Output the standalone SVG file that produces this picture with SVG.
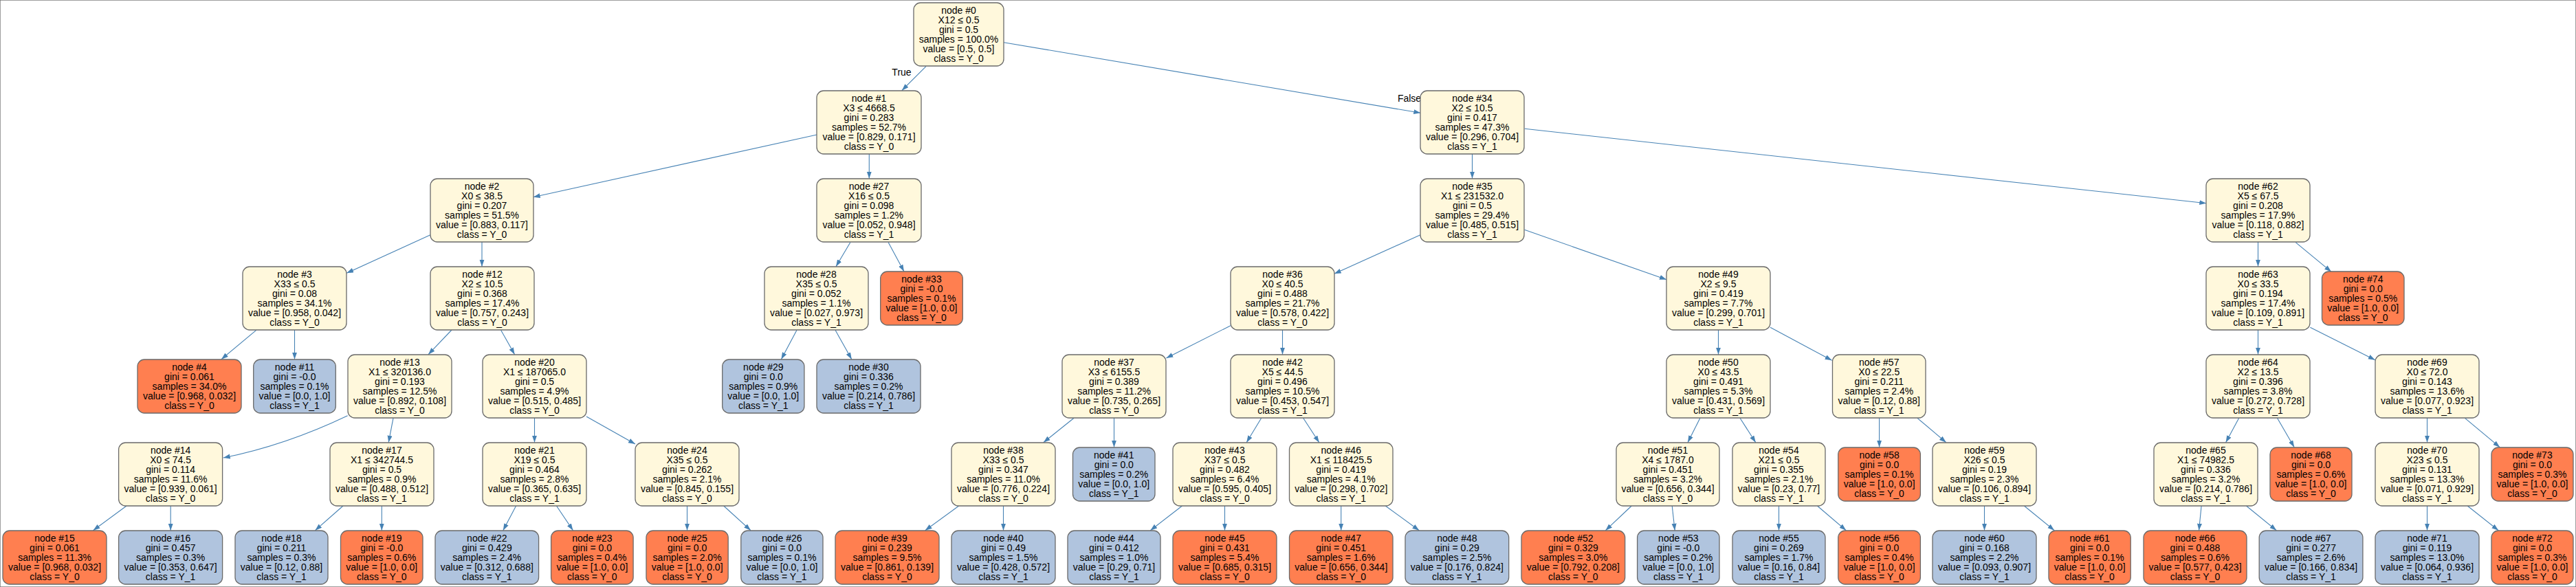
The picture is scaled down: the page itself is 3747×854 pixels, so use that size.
<svg xmlns="http://www.w3.org/2000/svg" width="3747" height="854" viewBox="0 0 3747 854">
<style>
rect{stroke:#6a6a6a;stroke-width:1.3}
.c{fill:#fff8dc}.o{fill:#ff7f50}.b{fill:#b0c4de}
text{font-family:"Liberation Sans",Arial,Helvetica,sans-serif;font-size:14px;fill:#000;text-anchor:middle}
.e path{fill:none;stroke:#4682b4;stroke-width:1.1;marker-end:url(#ah)}
</style>
<defs>
<marker id="ah" markerUnits="userSpaceOnUse" markerWidth="11" markerHeight="8" refX="10" refY="3.5" orient="auto"><path d="M0,0 L10,3.5 L0,7 z" fill="#4682b4"/></marker>
</defs>
<rect x="0" y="0" width="3747" height="854" fill="#fff" stroke="none"/>
<g id="edges" class="e">
<path d="M1346.9,96.7 L1311.8,131.7"/>
<path d="M1460,61.7 L2066.3,164.3"/>
<path d="M1188.2,196 L775.7,286.7"/>
<path d="M1264.3,224 L1264.3,259.7"/>
<path d="M2141.5,224 L2141.5,259.7"/>
<path d="M2217.8,187.3 L3209.3,295.7"/>
<path d="M626,341.7 L504.2,397.3"/>
<path d="M701,352 L701,387.7"/>
<path d="M1236.8,352.7 L1216,387.7"/>
<path d="M1292.2,352.7 L1315,395"/>
<path d="M2066,341.7 L1940.8,398.3"/>
<path d="M2217.5,334.3 L2424,406.7"/>
<path d="M3284.5,352 L3284.5,387.7"/>
<path d="M3339.2,352.7 L3391,395.3"/>
<path d="M372.7,480.3 L322,522.7"/>
<path d="M428.5,480 L428.5,522.7"/>
<path d="M657,480 L623,515.7"/>
<path d="M728.6,480.3 L748.6,515.7"/>
<path d="M1159,480.3 L1136.4,522.7"/>
<path d="M1215,480.3 L1238.8,522.7"/>
<path d="M1790,473.7 L1696.4,521"/>
<path d="M1865.5,480 L1865.5,515.7"/>
<path d="M2499.5,480 L2499.5,515.7"/>
<path d="M2575,476.3 L2664.6,524.3"/>
<path d="M3284.5,480 L3284.5,515.7"/>
<path d="M3360.3,476.3 L3454.8,523.7"/>
<path d="M505.6,604.7 Q415,648 324.8,666"/>
<path d="M572,608.3 L565.2,643.7"/>
<path d="M777.5,608 L777.5,643.7"/>
<path d="M853,606 L924,646"/>
<path d="M1562,608.3 L1517.8,643.7"/>
<path d="M1620.5,608 L1620.5,650.7"/>
<path d="M1834.7,608.3 L1813.2,643.7"/>
<path d="M1895.7,608.3 L1918.8,643.7"/>
<path d="M2472.9,608.3 L2455,643.7"/>
<path d="M2531,608.3 L2553.8,643.7"/>
<path d="M2733.6,608 L2733.6,650.7"/>
<path d="M2789,608.3 L2830.8,643.7"/>
<path d="M3256.7,608.3 L3237.6,643.7"/>
<path d="M3312.5,608.3 L3337.2,650.7"/>
<path d="M3530.5,608 L3530.5,643.7"/>
<path d="M3585.5,608.3 L3636.2,650.7"/>
<path d="M184,736 L135.5,771.7"/>
<path d="M248.2,736 L248.2,771.7"/>
<path d="M499,736 L458.4,771.7"/>
<path d="M555.3,736 L555.3,771.7"/>
<path d="M750.6,736 L731.8,771.7"/>
<path d="M809.5,736 L833.5,771.7"/>
<path d="M999.5,736 L999.5,771.7"/>
<path d="M1052.7,736 L1092,771.7"/>
<path d="M1394.7,736 L1345.7,771.7"/>
<path d="M1459.5,736 L1459.5,771.7"/>
<path d="M1719.5,736 L1673.3,771.7"/>
<path d="M1781.5,736 L1781.5,771.7"/>
<path d="M1950.7,736 L1950.7,771.7"/>
<path d="M2015.3,736 L2064.3,771.7"/>
<path d="M2373.2,736 L2335.4,771.7"/>
<path d="M2432.2,736 L2436.2,771.7"/>
<path d="M2587.5,736 L2587.5,771.7"/>
<path d="M2643.5,736 L2685.3,771.7"/>
<path d="M2886.5,736 L2886.5,771.7"/>
<path d="M2944.4,736 L2988.2,771.7"/>
<path d="M3202.1,736 L3198.5,771.7"/>
<path d="M3267.5,736 L3311.3,771.7"/>
<path d="M3530.5,736 L3530.5,771.7"/>
<path d="M3589.2,736 L3634.2,771.7"/>
<text x="1311.5" y="110">True</text>
<text x="2050" y="148">False</text>
</g>
<g id="node0"><rect class="c" x="1329" y="4" width="131" height="92" rx="10"/><text x="1394.5" y="20"><tspan x="1394.5">node #0</tspan><tspan x="1394.5" dy="14">X12 ≤ 0.5</tspan><tspan x="1394.5" dy="14">gini = 0.5</tspan><tspan x="1394.5" dy="14">samples = 100.0%</tspan><tspan x="1394.5" dy="14">value = [0.5, 0.5]</tspan><tspan x="1394.5" dy="14">class = Y_0</tspan></text></g>
<g id="node1"><rect class="c" x="1188" y="132" width="152" height="92" rx="10"/><text x="1264" y="148"><tspan x="1264">node #1</tspan><tspan x="1264" dy="14">X3 ≤ 4668.5</tspan><tspan x="1264" dy="14">gini = 0.283</tspan><tspan x="1264" dy="14">samples = 52.7%</tspan><tspan x="1264" dy="14">value = [0.829, 0.171]</tspan><tspan x="1264" dy="14">class = Y_0</tspan></text></g>
<g id="node34"><rect class="c" x="2066" y="132" width="151" height="92" rx="10"/><text x="2141.5" y="148"><tspan x="2141.5">node #34</tspan><tspan x="2141.5" dy="14">X2 ≤ 10.5</tspan><tspan x="2141.5" dy="14">gini = 0.417</tspan><tspan x="2141.5" dy="14">samples = 47.3%</tspan><tspan x="2141.5" dy="14">value = [0.296, 0.704]</tspan><tspan x="2141.5" dy="14">class = Y_1</tspan></text></g>
<g id="node2"><rect class="c" x="626" y="260" width="150" height="92" rx="10"/><text x="701" y="276"><tspan x="701">node #2</tspan><tspan x="701" dy="14">X0 ≤ 38.5</tspan><tspan x="701" dy="14">gini = 0.207</tspan><tspan x="701" dy="14">samples = 51.5%</tspan><tspan x="701" dy="14">value = [0.883, 0.117]</tspan><tspan x="701" dy="14">class = Y_0</tspan></text></g>
<g id="node27"><rect class="c" x="1188" y="260" width="152" height="92" rx="10"/><text x="1264" y="276"><tspan x="1264">node #27</tspan><tspan x="1264" dy="14">X16 ≤ 0.5</tspan><tspan x="1264" dy="14">gini = 0.098</tspan><tspan x="1264" dy="14">samples = 1.2%</tspan><tspan x="1264" dy="14">value = [0.052, 0.948]</tspan><tspan x="1264" dy="14">class = Y_1</tspan></text></g>
<g id="node35"><rect class="c" x="2066" y="260" width="151" height="92" rx="10"/><text x="2141.5" y="276"><tspan x="2141.5">node #35</tspan><tspan x="2141.5" dy="14">X1 ≤ 231532.0</tspan><tspan x="2141.5" dy="14">gini = 0.5</tspan><tspan x="2141.5" dy="14">samples = 29.4%</tspan><tspan x="2141.5" dy="14">value = [0.485, 0.515]</tspan><tspan x="2141.5" dy="14">class = Y_1</tspan></text></g>
<g id="node62"><rect class="c" x="3209" y="260" width="151" height="92" rx="10"/><text x="3284.5" y="276"><tspan x="3284.5">node #62</tspan><tspan x="3284.5" dy="14">X5 ≤ 67.5</tspan><tspan x="3284.5" dy="14">gini = 0.208</tspan><tspan x="3284.5" dy="14">samples = 17.9%</tspan><tspan x="3284.5" dy="14">value = [0.118, 0.882]</tspan><tspan x="3284.5" dy="14">class = Y_1</tspan></text></g>
<g id="node3"><rect class="c" x="353" y="388" width="151" height="92" rx="10"/><text x="428.5" y="404"><tspan x="428.5">node #3</tspan><tspan x="428.5" dy="14">X33 ≤ 0.5</tspan><tspan x="428.5" dy="14">gini = 0.08</tspan><tspan x="428.5" dy="14">samples = 34.1%</tspan><tspan x="428.5" dy="14">value = [0.958, 0.042]</tspan><tspan x="428.5" dy="14">class = Y_0</tspan></text></g>
<g id="node12"><rect class="c" x="626" y="388" width="151" height="92" rx="10"/><text x="701.5" y="404"><tspan x="701.5">node #12</tspan><tspan x="701.5" dy="14">X2 ≤ 10.5</tspan><tspan x="701.5" dy="14">gini = 0.368</tspan><tspan x="701.5" dy="14">samples = 17.4%</tspan><tspan x="701.5" dy="14">value = [0.757, 0.243]</tspan><tspan x="701.5" dy="14">class = Y_0</tspan></text></g>
<g id="node28"><rect class="c" x="1112" y="388" width="151" height="92" rx="10"/><text x="1187.5" y="404"><tspan x="1187.5">node #28</tspan><tspan x="1187.5" dy="14">X35 ≤ 0.5</tspan><tspan x="1187.5" dy="14">gini = 0.052</tspan><tspan x="1187.5" dy="14">samples = 1.1%</tspan><tspan x="1187.5" dy="14">value = [0.027, 0.973]</tspan><tspan x="1187.5" dy="14">class = Y_1</tspan></text></g>
<g id="node33"><rect class="o" x="1280.7" y="395" width="119.6" height="78" rx="10"/><text x="1340.5" y="411"><tspan x="1340.5">node #33</tspan><tspan x="1340.5" dy="14">gini = -0.0</tspan><tspan x="1340.5" dy="14">samples = 0.1%</tspan><tspan x="1340.5" dy="14">value = [1.0, 0.0]</tspan><tspan x="1340.5" dy="14">class = Y_0</tspan></text></g>
<g id="node36"><rect class="c" x="1790" y="388" width="151" height="92" rx="10"/><text x="1865.5" y="404"><tspan x="1865.5">node #36</tspan><tspan x="1865.5" dy="14">X0 ≤ 40.5</tspan><tspan x="1865.5" dy="14">gini = 0.488</tspan><tspan x="1865.5" dy="14">samples = 21.7%</tspan><tspan x="1865.5" dy="14">value = [0.578, 0.422]</tspan><tspan x="1865.5" dy="14">class = Y_0</tspan></text></g>
<g id="node49"><rect class="c" x="2424" y="388" width="151" height="92" rx="10"/><text x="2499.5" y="404"><tspan x="2499.5">node #49</tspan><tspan x="2499.5" dy="14">X2 ≤ 9.5</tspan><tspan x="2499.5" dy="14">gini = 0.419</tspan><tspan x="2499.5" dy="14">samples = 7.7%</tspan><tspan x="2499.5" dy="14">value = [0.299, 0.701]</tspan><tspan x="2499.5" dy="14">class = Y_1</tspan></text></g>
<g id="node63"><rect class="c" x="3209" y="388" width="151" height="92" rx="10"/><text x="3284.5" y="404"><tspan x="3284.5">node #63</tspan><tspan x="3284.5" dy="14">X0 ≤ 33.5</tspan><tspan x="3284.5" dy="14">gini = 0.194</tspan><tspan x="3284.5" dy="14">samples = 17.4%</tspan><tspan x="3284.5" dy="14">value = [0.109, 0.891]</tspan><tspan x="3284.5" dy="14">class = Y_1</tspan></text></g>
<g id="node74"><rect class="o" x="3377.5" y="395" width="119.5" height="78" rx="10"/><text x="3437.25" y="411"><tspan x="3437.25">node #74</tspan><tspan x="3437.25" dy="14">gini = 0.0</tspan><tspan x="3437.25" dy="14">samples = 0.5%</tspan><tspan x="3437.25" dy="14">value = [1.0, 0.0]</tspan><tspan x="3437.25" dy="14">class = Y_0</tspan></text></g>
<g id="node4"><rect class="o" x="200" y="523" width="151" height="78" rx="10"/><text x="275.5" y="539"><tspan x="275.5">node #4</tspan><tspan x="275.5" dy="14">gini = 0.061</tspan><tspan x="275.5" dy="14">samples = 34.0%</tspan><tspan x="275.5" dy="14">value = [0.968, 0.032]</tspan><tspan x="275.5" dy="14">class = Y_0</tspan></text></g>
<g id="node11"><rect class="b" x="368.7" y="523" width="119.6" height="78" rx="10"/><text x="428.5" y="539"><tspan x="428.5">node #11</tspan><tspan x="428.5" dy="14">gini = -0.0</tspan><tspan x="428.5" dy="14">samples = 0.1%</tspan><tspan x="428.5" dy="14">value = [0.0, 1.0]</tspan><tspan x="428.5" dy="14">class = Y_1</tspan></text></g>
<g id="node13"><rect class="c" x="506" y="516" width="151" height="92" rx="10"/><text x="581.5" y="532"><tspan x="581.5">node #13</tspan><tspan x="581.5" dy="14">X1 ≤ 320136.0</tspan><tspan x="581.5" dy="14">gini = 0.193</tspan><tspan x="581.5" dy="14">samples = 12.5%</tspan><tspan x="581.5" dy="14">value = [0.892, 0.108]</tspan><tspan x="581.5" dy="14">class = Y_0</tspan></text></g>
<g id="node20"><rect class="c" x="702" y="516" width="151" height="92" rx="10"/><text x="777.5" y="532"><tspan x="777.5">node #20</tspan><tspan x="777.5" dy="14">X1 ≤ 187065.0</tspan><tspan x="777.5" dy="14">gini = 0.5</tspan><tspan x="777.5" dy="14">samples = 4.9%</tspan><tspan x="777.5" dy="14">value = [0.515, 0.485]</tspan><tspan x="777.5" dy="14">class = Y_0</tspan></text></g>
<g id="node29"><rect class="b" x="1050.7" y="523" width="119.2" height="78" rx="10"/><text x="1110.3" y="539"><tspan x="1110.3">node #29</tspan><tspan x="1110.3" dy="14">gini = 0.0</tspan><tspan x="1110.3" dy="14">samples = 0.9%</tspan><tspan x="1110.3" dy="14">value = [0.0, 1.0]</tspan><tspan x="1110.3" dy="14">class = Y_1</tspan></text></g>
<g id="node30"><rect class="b" x="1188" y="523" width="151" height="78" rx="10"/><text x="1263.5" y="539"><tspan x="1263.5">node #30</tspan><tspan x="1263.5" dy="14">gini = 0.336</tspan><tspan x="1263.5" dy="14">samples = 0.2%</tspan><tspan x="1263.5" dy="14">value = [0.214, 0.786]</tspan><tspan x="1263.5" dy="14">class = Y_1</tspan></text></g>
<g id="node37"><rect class="c" x="1545" y="516" width="151" height="92" rx="10"/><text x="1620.5" y="532"><tspan x="1620.5">node #37</tspan><tspan x="1620.5" dy="14">X3 ≤ 6155.5</tspan><tspan x="1620.5" dy="14">gini = 0.389</tspan><tspan x="1620.5" dy="14">samples = 11.2%</tspan><tspan x="1620.5" dy="14">value = [0.735, 0.265]</tspan><tspan x="1620.5" dy="14">class = Y_0</tspan></text></g>
<g id="node42"><rect class="c" x="1790" y="516" width="151" height="92" rx="10"/><text x="1865.5" y="532"><tspan x="1865.5">node #42</tspan><tspan x="1865.5" dy="14">X5 ≤ 44.5</tspan><tspan x="1865.5" dy="14">gini = 0.496</tspan><tspan x="1865.5" dy="14">samples = 10.5%</tspan><tspan x="1865.5" dy="14">value = [0.453, 0.547]</tspan><tspan x="1865.5" dy="14">class = Y_1</tspan></text></g>
<g id="node50"><rect class="c" x="2424" y="516" width="151" height="92" rx="10"/><text x="2499.5" y="532"><tspan x="2499.5">node #50</tspan><tspan x="2499.5" dy="14">X0 ≤ 43.5</tspan><tspan x="2499.5" dy="14">gini = 0.491</tspan><tspan x="2499.5" dy="14">samples = 5.3%</tspan><tspan x="2499.5" dy="14">value = [0.431, 0.569]</tspan><tspan x="2499.5" dy="14">class = Y_1</tspan></text></g>
<g id="node57"><rect class="c" x="2665.5" y="516" width="135.5" height="92" rx="10"/><text x="2733.25" y="532"><tspan x="2733.25">node #57</tspan><tspan x="2733.25" dy="14">X0 ≤ 22.5</tspan><tspan x="2733.25" dy="14">gini = 0.211</tspan><tspan x="2733.25" dy="14">samples = 2.4%</tspan><tspan x="2733.25" dy="14">value = [0.12, 0.88]</tspan><tspan x="2733.25" dy="14">class = Y_1</tspan></text></g>
<g id="node64"><rect class="c" x="3209" y="516" width="151" height="92" rx="10"/><text x="3284.5" y="532"><tspan x="3284.5">node #64</tspan><tspan x="3284.5" dy="14">X2 ≤ 13.5</tspan><tspan x="3284.5" dy="14">gini = 0.396</tspan><tspan x="3284.5" dy="14">samples = 3.8%</tspan><tspan x="3284.5" dy="14">value = [0.272, 0.728]</tspan><tspan x="3284.5" dy="14">class = Y_1</tspan></text></g>
<g id="node69"><rect class="c" x="3455" y="516" width="151" height="92" rx="10"/><text x="3530.5" y="532"><tspan x="3530.5">node #69</tspan><tspan x="3530.5" dy="14">X0 ≤ 72.0</tspan><tspan x="3530.5" dy="14">gini = 0.143</tspan><tspan x="3530.5" dy="14">samples = 13.6%</tspan><tspan x="3530.5" dy="14">value = [0.077, 0.923]</tspan><tspan x="3530.5" dy="14">class = Y_1</tspan></text></g>
<g id="node14"><rect class="c" x="172.6" y="644" width="151" height="92" rx="10"/><text x="248.1" y="660"><tspan x="248.1">node #14</tspan><tspan x="248.1" dy="14">X0 ≤ 74.5</tspan><tspan x="248.1" dy="14">gini = 0.114</tspan><tspan x="248.1" dy="14">samples = 11.6%</tspan><tspan x="248.1" dy="14">value = [0.939, 0.061]</tspan><tspan x="248.1" dy="14">class = Y_0</tspan></text></g>
<g id="node17"><rect class="c" x="480" y="644" width="151" height="92" rx="10"/><text x="555.5" y="660"><tspan x="555.5">node #17</tspan><tspan x="555.5" dy="14">X1 ≤ 342744.5</tspan><tspan x="555.5" dy="14">gini = 0.5</tspan><tspan x="555.5" dy="14">samples = 0.9%</tspan><tspan x="555.5" dy="14">value = [0.488, 0.512]</tspan><tspan x="555.5" dy="14">class = Y_1</tspan></text></g>
<g id="node21"><rect class="c" x="702" y="644" width="151" height="92" rx="10"/><text x="777.5" y="660"><tspan x="777.5">node #21</tspan><tspan x="777.5" dy="14">X19 ≤ 0.5</tspan><tspan x="777.5" dy="14">gini = 0.464</tspan><tspan x="777.5" dy="14">samples = 2.8%</tspan><tspan x="777.5" dy="14">value = [0.365, 0.635]</tspan><tspan x="777.5" dy="14">class = Y_1</tspan></text></g>
<g id="node24"><rect class="c" x="924" y="644" width="151" height="92" rx="10"/><text x="999.5" y="660"><tspan x="999.5">node #24</tspan><tspan x="999.5" dy="14">X35 ≤ 0.5</tspan><tspan x="999.5" dy="14">gini = 0.262</tspan><tspan x="999.5" dy="14">samples = 2.1%</tspan><tspan x="999.5" dy="14">value = [0.845, 0.155]</tspan><tspan x="999.5" dy="14">class = Y_0</tspan></text></g>
<g id="node38"><rect class="c" x="1384" y="644" width="151" height="92" rx="10"/><text x="1459.5" y="660"><tspan x="1459.5">node #38</tspan><tspan x="1459.5" dy="14">X33 ≤ 0.5</tspan><tspan x="1459.5" dy="14">gini = 0.347</tspan><tspan x="1459.5" dy="14">samples = 11.0%</tspan><tspan x="1459.5" dy="14">value = [0.776, 0.224]</tspan><tspan x="1459.5" dy="14">class = Y_0</tspan></text></g>
<g id="node41"><rect class="b" x="1560.5" y="651" width="119.5" height="78" rx="10"/><text x="1620.25" y="667"><tspan x="1620.25">node #41</tspan><tspan x="1620.25" dy="14">gini = 0.0</tspan><tspan x="1620.25" dy="14">samples = 0.2%</tspan><tspan x="1620.25" dy="14">value = [0.0, 1.0]</tspan><tspan x="1620.25" dy="14">class = Y_1</tspan></text></g>
<g id="node43"><rect class="c" x="1706" y="644" width="151" height="92" rx="10"/><text x="1781.5" y="660"><tspan x="1781.5">node #43</tspan><tspan x="1781.5" dy="14">X37 ≤ 0.5</tspan><tspan x="1781.5" dy="14">gini = 0.482</tspan><tspan x="1781.5" dy="14">samples = 6.4%</tspan><tspan x="1781.5" dy="14">value = [0.595, 0.405]</tspan><tspan x="1781.5" dy="14">class = Y_0</tspan></text></g>
<g id="node46"><rect class="c" x="1875.5" y="644" width="150.5" height="92" rx="10"/><text x="1950.75" y="660"><tspan x="1950.75">node #46</tspan><tspan x="1950.75" dy="14">X1 ≤ 118425.5</tspan><tspan x="1950.75" dy="14">gini = 0.419</tspan><tspan x="1950.75" dy="14">samples = 4.1%</tspan><tspan x="1950.75" dy="14">value = [0.298, 0.702]</tspan><tspan x="1950.75" dy="14">class = Y_1</tspan></text></g>
<g id="node51"><rect class="c" x="2351" y="644" width="150" height="92" rx="10"/><text x="2426" y="660"><tspan x="2426">node #51</tspan><tspan x="2426" dy="14">X4 ≤ 1787.0</tspan><tspan x="2426" dy="14">gini = 0.451</tspan><tspan x="2426" dy="14">samples = 3.2%</tspan><tspan x="2426" dy="14">value = [0.656, 0.344]</tspan><tspan x="2426" dy="14">class = Y_0</tspan></text></g>
<g id="node54"><rect class="c" x="2520" y="644" width="135" height="92" rx="10"/><text x="2587.5" y="660"><tspan x="2587.5">node #54</tspan><tspan x="2587.5" dy="14">X21 ≤ 0.5</tspan><tspan x="2587.5" dy="14">gini = 0.355</tspan><tspan x="2587.5" dy="14">samples = 2.1%</tspan><tspan x="2587.5" dy="14">value = [0.23, 0.77]</tspan><tspan x="2587.5" dy="14">class = Y_1</tspan></text></g>
<g id="node58"><rect class="o" x="2673.8" y="651" width="119.6" height="78" rx="10"/><text x="2733.6" y="667"><tspan x="2733.6">node #58</tspan><tspan x="2733.6" dy="14">gini = 0.0</tspan><tspan x="2733.6" dy="14">samples = 0.1%</tspan><tspan x="2733.6" dy="14">value = [1.0, 0.0]</tspan><tspan x="2733.6" dy="14">class = Y_0</tspan></text></g>
<g id="node59"><rect class="c" x="2811" y="644" width="151" height="92" rx="10"/><text x="2886.5" y="660"><tspan x="2886.5">node #59</tspan><tspan x="2886.5" dy="14">X26 ≤ 0.5</tspan><tspan x="2886.5" dy="14">gini = 0.19</tspan><tspan x="2886.5" dy="14">samples = 2.3%</tspan><tspan x="2886.5" dy="14">value = [0.106, 0.894]</tspan><tspan x="2886.5" dy="14">class = Y_1</tspan></text></g>
<g id="node65"><rect class="c" x="3133" y="644" width="151" height="92" rx="10"/><text x="3208.5" y="660"><tspan x="3208.5">node #65</tspan><tspan x="3208.5" dy="14">X1 ≤ 74982.5</tspan><tspan x="3208.5" dy="14">gini = 0.336</tspan><tspan x="3208.5" dy="14">samples = 3.2%</tspan><tspan x="3208.5" dy="14">value = [0.214, 0.786]</tspan><tspan x="3208.5" dy="14">class = Y_1</tspan></text></g>
<g id="node68"><rect class="o" x="3302" y="651" width="119" height="78" rx="10"/><text x="3361.5" y="667"><tspan x="3361.5">node #68</tspan><tspan x="3361.5" dy="14">gini = 0.0</tspan><tspan x="3361.5" dy="14">samples = 0.6%</tspan><tspan x="3361.5" dy="14">value = [1.0, 0.0]</tspan><tspan x="3361.5" dy="14">class = Y_0</tspan></text></g>
<g id="node70"><rect class="c" x="3455" y="644" width="151" height="92" rx="10"/><text x="3530.5" y="660"><tspan x="3530.5">node #70</tspan><tspan x="3530.5" dy="14">X23 ≤ 0.5</tspan><tspan x="3530.5" dy="14">gini = 0.131</tspan><tspan x="3530.5" dy="14">samples = 13.3%</tspan><tspan x="3530.5" dy="14">value = [0.071, 0.929]</tspan><tspan x="3530.5" dy="14">class = Y_1</tspan></text></g>
<g id="node73"><rect class="o" x="3624" y="651" width="119" height="78" rx="10"/><text x="3683.5" y="667"><tspan x="3683.5">node #73</tspan><tspan x="3683.5" dy="14">gini = 0.0</tspan><tspan x="3683.5" dy="14">samples = 0.3%</tspan><tspan x="3683.5" dy="14">value = [1.0, 0.0]</tspan><tspan x="3683.5" dy="14">class = Y_0</tspan></text></g>
<g id="node15"><rect class="o" x="4" y="772" width="151" height="78" rx="10"/><text x="79.5" y="788"><tspan x="79.5">node #15</tspan><tspan x="79.5" dy="14">gini = 0.061</tspan><tspan x="79.5" dy="14">samples = 11.3%</tspan><tspan x="79.5" dy="14">value = [0.968, 0.032]</tspan><tspan x="79.5" dy="14">class = Y_0</tspan></text></g>
<g id="node16"><rect class="b" x="172.6" y="772" width="151" height="78" rx="10"/><text x="248.1" y="788"><tspan x="248.1">node #16</tspan><tspan x="248.1" dy="14">gini = 0.457</tspan><tspan x="248.1" dy="14">samples = 0.3%</tspan><tspan x="248.1" dy="14">value = [0.353, 0.647]</tspan><tspan x="248.1" dy="14">class = Y_1</tspan></text></g>
<g id="node18"><rect class="b" x="342" y="772" width="135" height="78" rx="10"/><text x="409.5" y="788"><tspan x="409.5">node #18</tspan><tspan x="409.5" dy="14">gini = 0.211</tspan><tspan x="409.5" dy="14">samples = 0.3%</tspan><tspan x="409.5" dy="14">value = [0.12, 0.88]</tspan><tspan x="409.5" dy="14">class = Y_1</tspan></text></g>
<g id="node19"><rect class="o" x="495.5" y="772" width="119.5" height="78" rx="10"/><text x="555.25" y="788"><tspan x="555.25">node #19</tspan><tspan x="555.25" dy="14">gini = -0.0</tspan><tspan x="555.25" dy="14">samples = 0.6%</tspan><tspan x="555.25" dy="14">value = [1.0, 0.0]</tspan><tspan x="555.25" dy="14">class = Y_0</tspan></text></g>
<g id="node22"><rect class="b" x="633" y="772" width="150.6" height="78" rx="10"/><text x="708.3" y="788"><tspan x="708.3">node #22</tspan><tspan x="708.3" dy="14">gini = 0.429</tspan><tspan x="708.3" dy="14">samples = 2.4%</tspan><tspan x="708.3" dy="14">value = [0.312, 0.688]</tspan><tspan x="708.3" dy="14">class = Y_1</tspan></text></g>
<g id="node23"><rect class="o" x="801.6" y="772" width="119.5" height="78" rx="10"/><text x="861.35" y="788"><tspan x="861.35">node #23</tspan><tspan x="861.35" dy="14">gini = 0.0</tspan><tspan x="861.35" dy="14">samples = 0.4%</tspan><tspan x="861.35" dy="14">value = [1.0, 0.0]</tspan><tspan x="861.35" dy="14">class = Y_0</tspan></text></g>
<g id="node25"><rect class="o" x="940" y="772" width="119.2" height="78" rx="10"/><text x="999.6" y="788"><tspan x="999.6">node #25</tspan><tspan x="999.6" dy="14">gini = 0.0</tspan><tspan x="999.6" dy="14">samples = 2.0%</tspan><tspan x="999.6" dy="14">value = [1.0, 0.0]</tspan><tspan x="999.6" dy="14">class = Y_0</tspan></text></g>
<g id="node26"><rect class="b" x="1077.8" y="772" width="119.2" height="78" rx="10"/><text x="1137.4" y="788"><tspan x="1137.4">node #26</tspan><tspan x="1137.4" dy="14">gini = 0.0</tspan><tspan x="1137.4" dy="14">samples = 0.1%</tspan><tspan x="1137.4" dy="14">value = [0.0, 1.0]</tspan><tspan x="1137.4" dy="14">class = Y_1</tspan></text></g>
<g id="node39"><rect class="o" x="1215" y="772" width="151" height="78" rx="10"/><text x="1290.5" y="788"><tspan x="1290.5">node #39</tspan><tspan x="1290.5" dy="14">gini = 0.239</tspan><tspan x="1290.5" dy="14">samples = 9.5%</tspan><tspan x="1290.5" dy="14">value = [0.861, 0.139]</tspan><tspan x="1290.5" dy="14">class = Y_0</tspan></text></g>
<g id="node40"><rect class="b" x="1384" y="772" width="151" height="78" rx="10"/><text x="1459.5" y="788"><tspan x="1459.5">node #40</tspan><tspan x="1459.5" dy="14">gini = 0.49</tspan><tspan x="1459.5" dy="14">samples = 1.5%</tspan><tspan x="1459.5" dy="14">value = [0.428, 0.572]</tspan><tspan x="1459.5" dy="14">class = Y_1</tspan></text></g>
<g id="node44"><rect class="b" x="1553" y="772" width="135" height="78" rx="10"/><text x="1620.5" y="788"><tspan x="1620.5">node #44</tspan><tspan x="1620.5" dy="14">gini = 0.412</tspan><tspan x="1620.5" dy="14">samples = 1.0%</tspan><tspan x="1620.5" dy="14">value = [0.29, 0.71]</tspan><tspan x="1620.5" dy="14">class = Y_1</tspan></text></g>
<g id="node45"><rect class="o" x="1706" y="772" width="151" height="78" rx="10"/><text x="1781.5" y="788"><tspan x="1781.5">node #45</tspan><tspan x="1781.5" dy="14">gini = 0.431</tspan><tspan x="1781.5" dy="14">samples = 5.4%</tspan><tspan x="1781.5" dy="14">value = [0.685, 0.315]</tspan><tspan x="1781.5" dy="14">class = Y_0</tspan></text></g>
<g id="node47"><rect class="o" x="1875.5" y="772" width="150.5" height="78" rx="10"/><text x="1950.75" y="788"><tspan x="1950.75">node #47</tspan><tspan x="1950.75" dy="14">gini = 0.451</tspan><tspan x="1950.75" dy="14">samples = 1.6%</tspan><tspan x="1950.75" dy="14">value = [0.656, 0.344]</tspan><tspan x="1950.75" dy="14">class = Y_0</tspan></text></g>
<g id="node48"><rect class="b" x="2044" y="772" width="150.7" height="78" rx="10"/><text x="2119.35" y="788"><tspan x="2119.35">node #48</tspan><tspan x="2119.35" dy="14">gini = 0.29</tspan><tspan x="2119.35" dy="14">samples = 2.5%</tspan><tspan x="2119.35" dy="14">value = [0.176, 0.824]</tspan><tspan x="2119.35" dy="14">class = Y_1</tspan></text></g>
<g id="node52"><rect class="o" x="2213" y="772" width="150.7" height="78" rx="10"/><text x="2288.35" y="788"><tspan x="2288.35">node #52</tspan><tspan x="2288.35" dy="14">gini = 0.329</tspan><tspan x="2288.35" dy="14">samples = 3.0%</tspan><tspan x="2288.35" dy="14">value = [0.792, 0.208]</tspan><tspan x="2288.35" dy="14">class = Y_0</tspan></text></g>
<g id="node53"><rect class="b" x="2381.6" y="772" width="119.4" height="78" rx="10"/><text x="2441.3" y="788"><tspan x="2441.3">node #53</tspan><tspan x="2441.3" dy="14">gini = -0.0</tspan><tspan x="2441.3" dy="14">samples = 0.2%</tspan><tspan x="2441.3" dy="14">value = [0.0, 1.0]</tspan><tspan x="2441.3" dy="14">class = Y_1</tspan></text></g>
<g id="node55"><rect class="b" x="2520" y="772" width="135" height="78" rx="10"/><text x="2587.5" y="788"><tspan x="2587.5">node #55</tspan><tspan x="2587.5" dy="14">gini = 0.269</tspan><tspan x="2587.5" dy="14">samples = 1.7%</tspan><tspan x="2587.5" dy="14">value = [0.16, 0.84]</tspan><tspan x="2587.5" dy="14">class = Y_1</tspan></text></g>
<g id="node56"><rect class="o" x="2673.8" y="772" width="119.6" height="78" rx="10"/><text x="2733.6" y="788"><tspan x="2733.6">node #56</tspan><tspan x="2733.6" dy="14">gini = 0.0</tspan><tspan x="2733.6" dy="14">samples = 0.4%</tspan><tspan x="2733.6" dy="14">value = [1.0, 0.0]</tspan><tspan x="2733.6" dy="14">class = Y_0</tspan></text></g>
<g id="node60"><rect class="b" x="2811" y="772" width="151" height="78" rx="10"/><text x="2886.5" y="788"><tspan x="2886.5">node #60</tspan><tspan x="2886.5" dy="14">gini = 0.168</tspan><tspan x="2886.5" dy="14">samples = 2.2%</tspan><tspan x="2886.5" dy="14">value = [0.093, 0.907]</tspan><tspan x="2886.5" dy="14">class = Y_1</tspan></text></g>
<g id="node61"><rect class="o" x="2980" y="772" width="119.2" height="78" rx="10"/><text x="3039.6" y="788"><tspan x="3039.6">node #61</tspan><tspan x="3039.6" dy="14">gini = 0.0</tspan><tspan x="3039.6" dy="14">samples = 0.1%</tspan><tspan x="3039.6" dy="14">value = [1.0, 0.0]</tspan><tspan x="3039.6" dy="14">class = Y_0</tspan></text></g>
<g id="node66"><rect class="o" x="3118" y="772" width="150" height="78" rx="10"/><text x="3193" y="788"><tspan x="3193">node #66</tspan><tspan x="3193" dy="14">gini = 0.488</tspan><tspan x="3193" dy="14">samples = 0.6%</tspan><tspan x="3193" dy="14">value = [0.577, 0.423]</tspan><tspan x="3193" dy="14">class = Y_0</tspan></text></g>
<g id="node67"><rect class="b" x="3286.2" y="772" width="150.7" height="78" rx="10"/><text x="3361.55" y="788"><tspan x="3361.55">node #67</tspan><tspan x="3361.55" dy="14">gini = 0.277</tspan><tspan x="3361.55" dy="14">samples = 2.6%</tspan><tspan x="3361.55" dy="14">value = [0.166, 0.834]</tspan><tspan x="3361.55" dy="14">class = Y_1</tspan></text></g>
<g id="node71"><rect class="b" x="3455" y="772" width="151" height="78" rx="10"/><text x="3530.5" y="788"><tspan x="3530.5">node #71</tspan><tspan x="3530.5" dy="14">gini = 0.119</tspan><tspan x="3530.5" dy="14">samples = 13.0%</tspan><tspan x="3530.5" dy="14">value = [0.064, 0.936]</tspan><tspan x="3530.5" dy="14">class = Y_1</tspan></text></g>
<g id="node72"><rect class="o" x="3624" y="772" width="119" height="78" rx="10"/><text x="3683.5" y="788"><tspan x="3683.5">node #72</tspan><tspan x="3683.5" dy="14">gini = 0.0</tspan><tspan x="3683.5" dy="14">samples = 0.3%</tspan><tspan x="3683.5" dy="14">value = [1.0, 0.0]</tspan><tspan x="3683.5" dy="14">class = Y_0</tspan></text></g>
</svg>
